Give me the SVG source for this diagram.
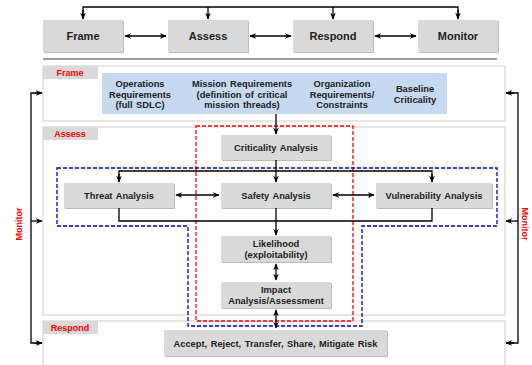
<svg xmlns="http://www.w3.org/2000/svg" width="532" height="365" viewBox="0 0 532 365">
<defs>
<marker id="ah" viewBox="0 0 10 10" refX="9" refY="5" markerWidth="7" markerHeight="7" orient="auto-start-reverse" markerUnits="userSpaceOnUse">
<path d="M0,1 L10,5 L0,9 L3,5 Z" fill="#000"/>
</marker>
<style>
.box{fill:#d9d9d9;}
.sh{fill:#bcbcbc;}
.panel{fill:#fff;stroke:#d9d9d9;stroke-width:1.3;}
.tab{fill:#d9d9d9;}
.t{font-family:"Liberation Sans",Arial,sans-serif;font-weight:bold;font-size:9.3px;fill:#222;text-anchor:middle;word-spacing:1px;}
.tt{font-family:"Liberation Sans",Arial,sans-serif;font-weight:bold;font-size:11px;fill:#222;text-anchor:middle;}
.red{font-family:"Liberation Sans",Arial,sans-serif;font-weight:bold;font-size:9px;fill:#ff0000;text-anchor:middle;}
.c{fill:none;stroke:#000;stroke-width:1.3;}
.a{fill:none;stroke:#000;stroke-width:1.3;marker-end:url(#ah);}
.da{fill:none;stroke:#000;stroke-width:1.3;marker-start:url(#ah);marker-end:url(#ah);}
</style>
</defs>
<rect width="532" height="365" fill="#fff"/>

<!-- panels -->
<g id="frame-panel">
<rect class="panel" x="43" y="66" width="462" height="55"/>
<rect class="tab" x="43" y="66" width="55" height="13"/>
<text class="red" x="70" y="76">Frame</text>
</g>
<g id="assess-panel">
<rect class="panel" x="43" y="127" width="462" height="188"/>
<rect class="tab" x="43" y="127" width="55" height="13"/>
<text class="red" x="70" y="137">Assess</text>
</g>
<g id="respond-panel">
<rect class="panel" x="43" y="321" width="462" height="50"/>
<rect class="tab" x="43" y="321" width="55" height="13"/>
<text class="red" x="70" y="331">Respond</text>
</g>

<line x1="43" y1="59" x2="497" y2="59" stroke="#7f7f7f" stroke-width="1.5"/>

<!-- top row -->
<g id="top-frame"><rect class="sh" x="44" y="21" width="80" height="32"/><rect class="box" x="43" y="20" width="80" height="32"/><text class="tt" x="83" y="40">Frame</text></g>
<g id="top-assess"><rect class="sh" x="169" y="21" width="80" height="32"/><rect class="box" x="168" y="20" width="80" height="32"/><text class="tt" x="208" y="40">Assess</text></g>
<g id="top-respond"><rect class="sh" x="294" y="21" width="80" height="32"/><rect class="box" x="293" y="20" width="80" height="32"/><text class="tt" x="333" y="40">Respond</text></g>
<g id="top-monitor"><rect class="sh" x="419" y="21" width="80" height="32"/><rect class="box" x="418" y="20" width="80" height="32"/><text class="tt" x="458" y="40">Monitor</text></g>

<!-- frame inputs -->
<g id="frame-inputs">
<rect x="102" y="73" width="345" height="41" fill="#c6d9f1"/>
<text class="t" x="140" y="87">Operations</text>
<text class="t" x="140" y="97.5">Requirements</text>
<text class="t" x="140" y="108">(full SDLC)</text>
<text class="t" x="242" y="87">Mission Requirements</text>
<text class="t" x="242" y="97.5">(definition of critical</text>
<text class="t" x="242" y="108">mission threads)</text>
<text class="t" x="342" y="87">Organization</text>
<text class="t" x="342" y="97.5">Requirements/</text>
<text class="t" x="342" y="108">Constraints</text>
<text class="t" x="415" y="92">Baseline</text>
<text class="t" x="415" y="102.5">Criticality</text>
</g>

<!-- assess nodes -->
<g id="criticality"><rect class="sh" x="222" y="136" width="110" height="25"/><rect class="box" x="221" y="135" width="110" height="25"/><text class="t" x="276" y="151">Criticality Analysis</text></g>
<g id="threat"><rect class="sh" x="65" y="184" width="110" height="25"/><rect class="box" x="64" y="183" width="110" height="25"/><text class="t" x="119" y="199">Threat Analysis</text></g>
<g id="safety"><rect class="sh" x="222" y="184" width="110" height="25"/><rect class="box" x="221" y="183" width="110" height="25"/><text class="t" x="276" y="199">Safety Analysis</text></g>
<g id="vulnerability"><rect class="sh" x="377" y="184" width="116" height="25"/><rect class="box" x="376" y="183" width="116" height="25"/><text class="t" x="434" y="199">Vulnerability Analysis</text></g>
<g id="likelihood"><rect class="sh" x="222" y="237" width="110" height="26"/><rect class="box" x="221" y="236" width="110" height="26"/><text class="t" x="276" y="247">Likelihood</text><text class="t" x="276" y="257.5">(exploitability)</text></g>
<g id="impact"><rect class="sh" x="222" y="283" width="110" height="26"/><rect class="box" x="221" y="282" width="110" height="26"/><text class="t" x="276" y="293">Impact</text><text class="t" x="276" y="303.5">Analysis/Assessment</text></g>
<g id="respond-action"><rect class="sh" x="165" y="331" width="223" height="26"/><rect class="box" x="164" y="330" width="223" height="26"/><text class="t" x="275.5" y="346.5">Accept, Reject, Transfer, Share, Mitigate Risk</text></g>

<!-- dashed regions -->
<g id="regions">
<rect x="196" y="126" width="157" height="195" fill="none" stroke="#ff0000" stroke-width="1.3" stroke-dasharray="4,2"/>
<path d="M57,168 H497 V226 H362 V326 H188 V226 H57 Z" fill="none" stroke="#0000cc" stroke-width="1.3" stroke-dasharray="4,2"/>
</g>

<!-- connectors -->
<g id="connectors">
<path class="c" d="M83,18 V7 H458 V18"/>
<path class="a" d="M83,10 V19"/>
<path class="a" d="M208,7 V19"/>
<path class="a" d="M333,7 V19"/>
<path class="a" d="M458,10 V19"/>
<path class="da" d="M125,36 H166"/>
<path class="da" d="M250,36 H291"/>
<path class="da" d="M375,36 H416"/>

<path class="a" d="M276,114 V134"/>
<path class="a" d="M276,160 V182"/>
<path class="c" d="M119,182 V171 H432 V182"/>
<path class="a" d="M119,174 V182"/>
<path class="a" d="M432,174 V182"/>
<path class="da" d="M176,195 H219"/>
<path class="da" d="M333,195 H374"/>
<path class="c" d="M119,208 V221 H432 V208"/>
<path class="a" d="M276,208 V235"/>
<path class="da" d="M276,264 V280"/>
<path class="da" d="M276,310 V328"/>

<path class="c" d="M42,93 H31 V343 H42"/>
<path class="a" d="M35,93 H42"/>
<path class="a" d="M31,221 H42"/>
<path class="a" d="M35,343 H42"/>
<path class="c" d="M506,93 H518 V343 H506"/>
<path class="a" d="M514,93 H506"/>
<path class="a" d="M518,221 H506"/>
<path class="a" d="M514,343 H506"/>
</g>

<text class="red" x="0" y="0" transform="translate(22,224) rotate(-90)">Monitor</text>
<text class="red" x="0" y="0" transform="translate(522,224) rotate(90)">Monitor</text>
</svg>
